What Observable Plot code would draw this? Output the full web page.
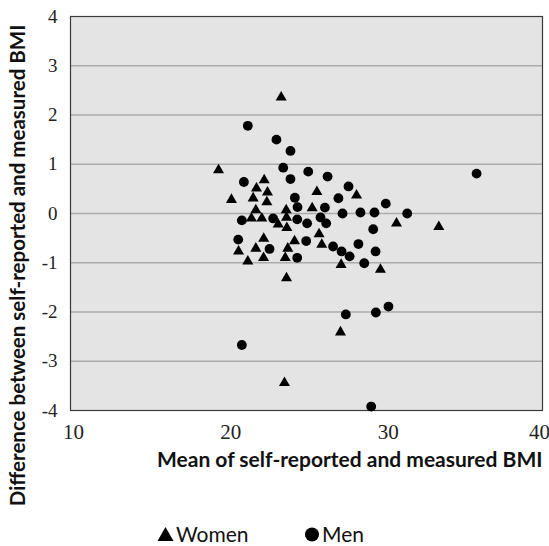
<!DOCTYPE html>
<html>
<head>
<meta charset="utf-8">
<script src="https://cdn.jsdelivr.net/npm/d3@7"></script>
<script src="https://cdn.jsdelivr.net/npm/@observablehq/plot@0.6"></script>
<style>
  html, body { margin: 0; padding: 0; background: #fff; }
  #wrap { position: relative; width: 549px; height: 546px; overflow: hidden; }
  #legend { position: relative; width: 549px; height: 26px; font-family: Lato, "Open Sans", sans-serif; font-size: 21px; color: #111; }
  .item { position: absolute; top: 3px; height: 26px; line-height: 26px; display: flex; align-items: center; }
  .item svg { margin-right: 2px; }
</style>
</head>
<body>
<div id="wrap">
  <div id="chart"></div>
  <div id="legend"></div>
</div>
<script>
// Women (triangles)
const womenX = [23.39, 19.41, 22.31, 21.82, 22.52, 25.66, 20.23, 21.61, 22.48, 21.78, 25.36, 23.71, 21.50, 22.16, 23.73, 23.20, 23.75, 28.18, 30.72, 33.41, 22.28, 24.24, 25.80, 25.97, 20.68, 21.78, 23.81, 22.27, 23.65, 21.27, 27.20, 29.70, 23.73, 27.16, 23.60];
const womenY = [2.36, 0.88, 0.68, 0.51, 0.43, 0.44, 0.28, 0.31, 0.23, 0.07, 0.11, 0.07, -0.10, -0.10, -0.08, -0.22, -0.29, 0.37, -0.20, -0.27, -0.51, -0.56, -0.42, -0.63, -0.77, -0.71, -0.71, -0.90, -0.90, -0.97, -1.04, -1.14, -1.31, -2.41, -3.44];
// Men (circles)
const menX = [21.27, 23.09, 23.98, 23.52, 25.11, 26.34, 21.02, 23.98, 27.67, 27.03, 24.26, 24.43, 26.17, 27.29, 20.89, 22.88, 24.41, 25.04, 25.89, 26.25, 30.04, 28.43, 29.32, 31.40, 35.81, 29.24, 20.66, 24.98, 26.69, 27.23, 27.74, 22.65, 24.41, 28.30, 29.39, 28.67, 27.50, 29.41, 30.21, 20.89, 29.11];
const menY = [1.78, 1.50, 1.27, 0.93, 0.85, 0.75, 0.64, 0.70, 0.55, 0.31, 0.32, 0.13, 0.12, 0.00, -0.14, -0.10, -0.12, -0.20, -0.08, -0.20, 0.20, 0.02, 0.02, 0.00, 0.81, -0.32, -0.53, -0.56, -0.67, -0.77, -0.87, -0.72, -0.90, -0.62, -0.77, -1.01, -2.05, -2.01, -1.89, -2.67, -3.92];

const xTicks = [10, 20, 30];
const xTicksEnd = [40];
const yTicks = [-4, -3, -2, -1, 0, 1, 2, 3, 4];
const gridTicks = [-3, -2, -1, 0, 1, 2, 3];
const xTitle = "Mean of self-reported and measured BMI";
const yTitle = "Difference between self-reported and measured BMI";
const seriesNames = ["Women", "Men"];

const women = womenX.map((x, i) => ({x, y: womenY[i]}));
const men = menX.map((x, i) => ({x, y: menY[i]}));

const xAxisStyle = {tickSize: 0, tickPadding: 14, fontSize: 21, fontFamily: "Liberation Serif", fill: "#222", label: null, tickFormat: d => String(d)};

const chart = Plot.plot({
  width: 549,
  height: 518,
  marginLeft: 70,
  marginRight: 7,
  marginTop: 16,
  marginBottom: 108,
  style: {background: "#fff", overflow: "visible"},
  x: {domain: [10, 40]},
  y: {domain: [-4, 4]},
  marks: [
    Plot.frame({fill: "#e4e4e4", stroke: null}),
    Plot.gridY(gridTicks, {stroke: "#ababab", strokeOpacity: 1, strokeWidth: 1.3}),
    Plot.frame({stroke: "#3a3a3a", strokeWidth: 1.2}),
    Plot.axisX(xTicks, {...xAxisStyle, dx: 3}),
    Plot.axisX(xTicksEnd, {...xAxisStyle, dx: -3}),
    Plot.axisY(yTicks, {tickSize: 0, tickPadding: 13, fontSize: 19, fontFamily: "Liberation Serif", fill: "#222", label: null, tickFormat: d => String(d)}),
    Plot.dot(women, {x: "x", y: "y", symbol: "triangle", r: 4.1, fill: "#000", stroke: null}),
    Plot.dot(men, {x: "x", y: "y", symbol: "circle", r: 4.9, fill: "#000", stroke: null}),
    Plot.text([xTitle], {frameAnchor: "bottom-right", textAnchor: "end", dx: 0, dy: 56, fontSize: 21, fontWeight: "bold", fontFamily: "Lato", fill: "#111"}),
    Plot.text([yTitle], {frameAnchor: "left", textAnchor: "middle", rotate: -90, dx: -52, dy: 52, fontSize: 20.5, fontWeight: "bold", fontFamily: "Lato", fill: "#111"})
  ]
});
document.getElementById("chart").appendChild(chart);

const legend = document.getElementById("legend");
const tri = `<svg width="17" height="16" viewBox="0 0 17 16"><path d="M8.5 1 L16.5 15 L0.5 15 Z" fill="#000"/></svg>`;
const circ = `<svg width="16" height="16" viewBox="0 0 16 16"><circle cx="8" cy="8.5" r="7" fill="#000"/></svg>`;
const items = [{sym: tri, left: 157, name: seriesNames[0]}, {sym: circ, left: 304, name: seriesNames[1]}];
for (const it of items) {
  const d = document.createElement("div");
  d.className = "item";
  d.style.left = it.left + "px";
  d.innerHTML = it.sym + `<span>${it.name}</span>`;
  legend.appendChild(d);
}
</script>
</body>
</html>
